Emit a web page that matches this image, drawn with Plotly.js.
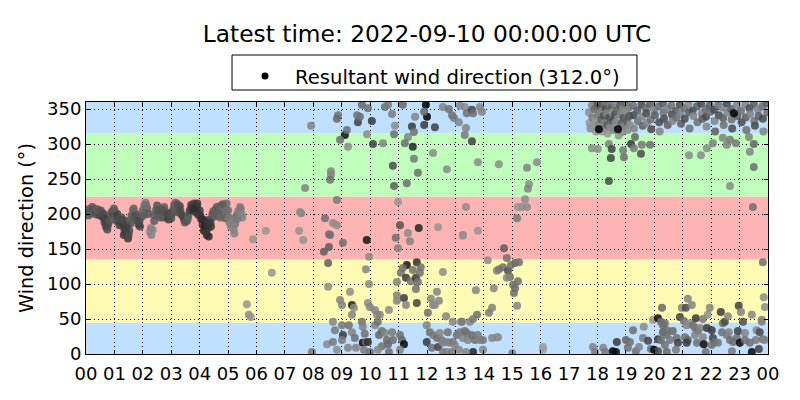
<!DOCTYPE html>
<html>
<head>
<meta charset="utf-8">
<script src="https://cdn.plot.ly/plotly-3.0.1.min.js"></script>
<style>html,body{margin:0;padding:0;background:#fff;}#chart{width:800px;height:400px;}</style>
</head>
<body>
<div id="chart"></div>
<script>
// ---------------- DATA ----------------
const titleText = 'Latest time: 2022-09-10 00:00:00 UTC';
const resultantDir = 312.0;
const yTitle = 'Wind direction (°)';
const hourTicks = [0,1,2,3,4,5,6,7,8,9,10,11,12,13,14,15,16,17,18,19,20,21,22,23,24];
const hourLabels = ['00','01','02','03','04','05','06','07','08','09','10','11','12','13','14','15','16','17','18','19','20','21','22','23','00'];
const dirTicks = [0,50,100,150,200,250,300,350];

// direction bands (degrees) and their colours
const bandFrom = [0, 45, 135, 225, 315];
const bandTo   = [45, 135, 225, 315, 360];
const bandColor = ['#bfe0ff', '#fffab4', '#ffb4b4', '#bfffbb', '#bfe0ff'];

// 00-05:30 : continuous cluster (hour, direction, shade 0=black..1=light grey)
const nightHour = [0.00,0.05,0.10,0.15,0.20,0.25,0.30,0.35,0.40,0.45,0.50,0.55,0.60,0.65,0.70,0.72,0.78,0.85,0.90,0.95,1.00,1.05,1.10,1.15,1.20,1.25,1.30,1.35,1.38,1.42,1.45,1.48,1.52,1.56,1.60,1.65,1.70,1.75,1.80,1.85,1.90,1.95,2.00,2.05,2.10,2.15,2.20,2.25,2.30,2.35,2.40,2.45,2.50,2.55,2.60,2.65,2.70,2.75,2.80,2.85,2.90,2.95,3.00,3.05,3.10,3.15,3.20,3.25,3.30,3.35,3.40,3.45,3.50,3.55,3.60,3.65,3.70,3.75,3.80,3.85,3.90,3.95,4.00,4.05,4.10,4.15,4.20,4.25,4.30,4.35,4.40,4.45,4.50,4.55,4.60,4.65,4.70,4.75,4.80,4.85,4.90,4.95,5.00,5.05,5.10,5.15,5.20,5.25,5.30,5.35,5.40,5.45,5.50];
const nightDir = [205,203,207,201,204,206,200,203,199,205,198,202,195,188,182,192,185,198,203,200,205,197,200,193,189,195,185,178,190,172,182,165,176,186,198,205,194,200,190,185,182,196,205,212,216,208,200,175,170,177,190,205,212,198,208,200,195,210,203,196,192,198,194,205,213,216,208,202,211,200,197,192,195,190,198,205,213,209,215,203,210,199,205,193,185,176,188,170,180,192,182,200,196,206,210,198,203,212,208,200,194,215,205,188,182,193,178,186,198,204,200,207,195];
const nightShade = [.5,.45,.55,.4,.5,.45,.5,.4,.45,.5,.4,.45,.35,.4,.35,.45,.4,.5,.45,.4,.5,.45,.35,.4,.35,.45,.3,.35,.4,.3,.35,.3,.4,.45,.5,.55,.45,.4,.45,.4,.35,.5,.55,.6,.65,.5,.45,.75,.7,.75,.5,.55,.45,.4,.5,.45,.4,.5,.45,.4,.35,.45,.4,.45,.5,.55,.45,.4,.35,.45,.4,.35,.4,.45,.5,.35,.3,.25,.35,.3,.25,.3,.3,.25,.3,.2,.3,.25,.3,.35,.3,.45,.5,.55,.5,.45,.55,.5,.6,.55,.5,.6,.6,.65,.7,.6,.7,.65,.6,.7,.65,.7,.7];

// extra readings inside the night cluster [hour, direction, shade]
const nightExtra = [
 [0.08,198,.5],[0.22,210,.45],[0.38,207,.5],[0.52,205,.45],[0.62,200,.4],[0.68,192,.35],[0.75,178,.4],[0.82,190,.45],[0.98,208,.5],
 [1.08,190,.4],[1.18,184,.35],[1.28,192,.4],[1.33,170,.3],[1.40,180,.35],[1.50,170,.4],[1.58,192,.5],[1.68,208,.55],[1.78,195,.45],[1.88,190,.4],
 [2.02,198,.5],[2.12,212,.6],[2.28,180,.7],[2.42,198,.5],[2.52,205,.45],[2.62,195,.5],[2.72,205,.45],[2.88,200,.4],
 [3.02,200,.45],[3.12,206,.5],[3.22,214,.45],[3.32,205,.4],[3.48,188,.45],[3.58,193,.5],[3.72,206,.3],[3.82,208,.25],[3.92,215,.3],
 [4.02,198,.3],[4.12,192,.25],[4.18,182,.2],[4.22,175,.3],[4.28,186,.3],[4.32,168,.25],[4.38,188,.3],[4.48,204,.5],[4.62,202,.5],[4.72,195,.55],[4.82,214,.5],[4.92,205,.6],
 [5.02,195,.65],[5.12,188,.7],[5.22,172,.7],[5.32,193,.65],[5.42,210,.65],[5.48,200,.7]
];

// 05:30-17:00 scattered readings [hour, direction, shade]
const dayPoints = [
 [5.88,164,.8],[6.33,176,.8],[6.54,116,.8],[5.66,71,.8],[5.73,56,.75],[5.80,53,.8],
 [7.92,326,.7],[7.71,237,.7],[7.57,201,.7],[7.53,203,.75],[7.50,176,.8],[7.64,163,.8],[7.95,3,.65],
 [8.62,261,.7],[8.62,256,.7],[8.59,249,.6],[8.41,194,.6],[8.69,187,.75],[8.83,184,.75],[8.55,171,.6],[8.59,170,.6],[8.83,220,.65],
 [9.04,159,.6],[8.37,146,.5],[8.55,153,.5],[8.52,130,.5],[8.52,96,.75],[8.94,77,.7],[9.01,70,.7],[9.36,70,.15],[9.43,66,.75],[9.29,89,.75],[9.36,56,.7],
 [9.88,163,.1],[9.96,139,.75],[9.85,121,.7],[9.96,100,.75],[9.92,73,.75],[9.99,67,.7],[10.17,63,.7],[10.34,56,.7],[10.66,63,.75],
 [10.90,166,.6],[10.98,151,.7],[10.98,217,.8],[11.05,184,.45],[11.33,173,.75],[11.40,161,.7],[11.71,180,.2],[12.39,181,.8],[13.26,170,.7],[13.26,169,.8],[13.37,210,.75],[13.79,176,.8],
 [10.94,84,.7],[10.94,76,.7],[11.19,80,.3],[11.26,70,.7],[10.94,103,.7],[11.08,116,.6],[11.26,109,.3],[11.29,127,.1],[11.15,123,.6],[11.43,104,.6],[11.50,120,.6],[11.64,131,.25],[11.78,124,.6],[11.61,109,.3],[11.75,116,.6],[11.68,103,.6],[11.61,93,.6],[11.64,73,.35],
 [12.56,117,.75],[12.35,89,.7],[12.42,76,.7],[12.14,79,.7],[12.21,70,.7],[12.28,70,.75],[12.03,59,.6],[12.67,54,.7],[12.91,46,.7],[13.20,46,.7],[13.72,91,.7],[13.76,56,.6],[13.51,46,.7],[13.62,50,.65],
 [14.14,134,.75],[14.35,94,.7],[14.29,66,.7],[14.18,59,.65],[14.46,119,.7],[14.53,121,.65],[14.67,124,.6],[14.71,151,.5],[14.81,137,.6],[14.85,119,.4],[14.92,110,.6],[14.81,109,.7],[15.03,99,.6],[15.10,94,.6],[15.20,104,.6],[15.06,87,.6],[15.17,69,.7],[15.10,130,.5],[15.24,131,.6],[14.95,127,.6],[14.46,24,.75],[14.50,24,.75],[14.29,23,.7],
 [9.71,356,.55],[9.92,351,.6],[10.52,353,.6],[10.63,356,.65],[10.77,343,.65],[11.15,356,.55],[11.96,356,0],[12.00,339,0],[11.90,346,.55],[11.90,327,.3],[11.58,339,.7],[11.47,325,.3],[11.54,317,.6],[11.33,310,.7],[11.50,296,.2],[11.22,301,.6],
 [10.87,326,.75],[10.84,314,.6],[10.45,301,.7],[10.10,300,.35],[10.06,333,.3],[9.89,314,.75],[9.57,331,.35],[9.64,339,.6],[9.54,341,.6],[9.22,296,.75],[9.11,313,.1],[9.18,320,.6],[8.94,306,.6],[8.87,341,.6],[8.83,336,.55],
 [10.80,269,.4],[10.84,240,.5],[11.29,244,.6],[11.54,279,.65],[11.68,259,.6],[12.21,287,.75],[12.70,264,.75],[12.28,324,.35],
 [12.56,353,.7],[12.77,350,.6],[12.88,341,.6],[12.95,337,.65],[13.12,331,.7],[13.16,355,.7],[13.33,353,.75],[13.40,344,.6],[13.58,349,.35],[13.62,344,.6],[13.86,353,.7],[13.93,346,.7],[13.37,323,.7],[13.33,313,.65],[13.58,304,.35],[13.79,274,.75],
 [14.53,271,.75],[15.52,266,.7],[15.87,274,.75],[15.59,243,.75],[15.55,236,.7],[15.45,221,.75],[15.52,210,.75],[15.34,210,.75],[15.17,194,.65],[15.20,210,.8],
 [8.69,46,.7],[8.76,34,.65],[9.01,41,.65],[9.04,27,.3],[9.01,20,.65],[8.48,14,.75],[8.69,17,.65],[8.83,6,.75],[9.25,41,.6],[9.36,31,.7],[9.46,23,.6],[9.22,9,.7],[9.50,9,.7],
 [9.71,46,.6],[9.74,39,.7],[9.81,29,.6],[9.74,16,.05],[9.85,17,.6],[9.92,17,.25],[9.78,6,.65],[9.99,3,.6],[10.17,41,.7],[10.27,46,.6],[10.41,33,.6],[10.31,27,.55],[10.52,30,.7],[10.59,20,.6],[10.41,11,.6],[10.63,14,.55],[10.77,31,.65],[10.80,20,.6],[10.27,6,.7],[10.66,3,.6],[10.24,56,.7],
 [11.05,27,.6],[11.12,20,.55],[11.19,14,.05],[11.05,6,.7],
 [11.99,17,.3],[11.99,41,.7],[12.10,31,.6],[12.21,27,.65],[12.17,9,.6],[12.35,23,.6],[12.39,10,.35],[12.52,20,.65],[12.56,16,.7],[12.70,17,.7],[12.80,16,.7],[12.91,17,.65],[12.98,13,.7],[13.05,27,.6],[13.16,31,.65],[13.26,23,.7],[13.40,30,.65],[13.44,20,.7],[13.58,27,.6],[13.69,20,.6],[13.79,27,.65],[13.86,20,.7],[13.97,20,.65],[13.62,3,.2],[13.97,6,.7],[12.70,3,.7],[12.88,3,.65],[13.12,6,.7],[13.37,3,.7],[12.56,3,.65],[13.23,46,.65],[13.33,33,.6],[12.45,30,.7],[12.73,31,.6],
 [15.00,1,.7],[16.08,10,.85],[16.08,6,.85]
];

// 17:30-24:00 readings [hour, direction, shade]
const eveningPoints = [
 [17.84,10,.7],[17.91,3,.65],[18.20,9,.7],[18.27,3,.65],[18.54,4,0],[18.65,3,.05],[18.68,17,.3],[19.00,20,.55],[19.14,17,.6],[19.07,9,.6],[19.35,4,.6],[19.46,10,.7],[19.25,34,.6],[19.60,23,.65],[19.63,39,.75],[19.78,19,.35],[19.88,7,.6],[19.99,6,.05],[19.95,49,.8],
 [20.13,51,.05],[20.13,21,.3],[20.23,46,.6],[20.27,66,.55],[20.30,41,.6],[20.30,31,.5],[20.37,44,.6],[20.44,27,.6],[20.37,13,.6],[20.44,3,.55],[20.13,4,.4],[20.55,20,.65],[20.65,33,.55],[20.79,23,.6],[20.83,16,.35],[20.76,6,.65],[20.44,34,.6],[20.23,20,.6],
 [20.90,53,.35],[20.97,66,.7],[21.04,47,.6],[21.11,66,.4],[21.18,79,.7],[21.32,70,.7],[21.14,41,.7],[21.25,44,.75],[21.36,41,.6],[21.46,51,.3],[21.43,37,.65],[21.53,33,.6],[21.60,37,.7],[21.08,24,.6],[21.18,20,.55],[21.14,16,.3],[21.50,16,.6],[21.43,27,.7],
 [21.71,24,.7],[21.74,14,.05],[21.81,3,.6],[21.71,50,.65],[21.88,56,.75],[21.95,66,.7],[21.85,37,.3],[22.02,34,.3],[22.06,23,.35],[22.13,17,.6],[22.02,13,.6],[22.24,16,.65],[22.34,60,.3],[22.41,44,.6],[22.38,31,.6],[22.48,46,.4],[22.59,54,.7],[22.55,27,.65],[22.66,20,.6],[22.62,31,.7],[22.73,4,.65],[22.77,17,.6],
 [22.90,23,.6],[22.94,33,.35],[22.97,69,.35],[23.05,60,.7],[23.12,46,.4],[23.19,30,.7],[23.01,16,.05],[23.19,20,.6],[23.43,56,.7],[23.36,16,.6],[23.43,3,.05],[23.57,20,.65],[23.60,34,.7],[23.71,31,.4],[23.78,46,.7],[23.82,21,.6],[23.89,20,.7],[23.68,7,.35],[23.82,131,.6],[23.85,81,.75],[23.89,67,.75],[23.78,49,.7],
 [17.80,294,.75],[18.01,293,.75],[18.40,300,.7],[18.50,293,.35],[18.47,280,.35],[18.90,291,.65],[18.93,281,.6],[19.18,300,.3],[19.32,310,.55],[19.56,299,.65],[19.53,286,.4],[19.85,299,.6],[19.28,294,.65],[18.40,247,.4],
 [21.22,284,.75],[21.64,284,.75],[21.85,294,.75],[22.06,301,.7],[22.41,309,.7],[22.55,299,.7],[22.66,306,.65],[22.87,301,.65],[23.33,310,.7],[23.50,300,.55],[23.36,289,.7],[23.50,267,.6],[22.66,240,.75],[23.47,210,.6],
 [17.70,345,.75],[17.72,330,.8],[17.75,322,.75],[17.80,355,.7],[17.82,338,.65],[17.85,326,.8],[17.90,350,.55],[17.93,333,.8],[17.95,318,.8],
 [18.00,358,.45],[18.02,342,.65],[18.04,328,.7],[18.10,353,.4],[18.12,346,.7],[18.14,335,.5],[18.16,318,.8],[18.20,357,.55],[18.22,340,.45],[18.24,330,.7],[18.26,322,.75],
 [18.30,350,.4],[18.32,344,.7],[18.34,327,.5],[18.36,315,.8],[18.40,356,.6],[18.42,338,.4],[18.44,324,.75],[18.50,352,.5],[18.52,345,.75],[18.54,333,.45],[18.56,320,.7],
 [18.60,358,.7],[18.62,342,.4],[18.64,330,.75],[18.70,348,.55],[18.72,336,.75],[18.74,312,.8],[18.80,355,.45],[18.82,343,.7],[18.84,329,.5],[18.86,317,.75],
 [18.90,350,.75],[18.92,338,.45],[18.94,325,.7],[19.00,357,.55],[19.02,346,.75],[19.04,332,.5],[19.06,320,.75],[19.10,352,.7],[19.12,340,.45],[19.14,327,.75],
 [19.25,355,.6],[19.27,341,.4],[19.29,322,.7],[19.40,348,.5],[19.42,333,.6],[19.55,356,.4],[19.57,339,.7],[19.59,326,.5],[19.70,351,.6],[19.72,344,.4],[19.74,330,.7],
 [19.85,357,.5],[19.87,335,.6],[19.89,321,.4],[20.00,349,.7],[20.02,341,.5],[20.15,354,.6],[20.17,331,.4],[20.19,318,.7],[20.30,358,.5],[20.32,345,.6],[20.34,336,.4],
 [20.45,350,.7],[20.47,327,.5],[20.60,355,.6],[20.62,342,.4],[20.64,333,.7],[20.75,347,.5],[20.77,338,.6],[20.90,356,.4],[20.92,343,.7],[20.94,329,.5],
 [21.05,351,.6],[21.07,336,.4],[21.20,357,.7],[21.22,345,.5],[21.24,322,.6],[21.35,348,.4],[21.37,340,.7],[21.50,354,.5],[21.52,331,.6],
 [21.65,358,.4],[21.67,344,.7],[21.69,336,.5],[21.80,350,.6],[21.82,339,.4],[21.84,325,.7],[21.95,355,.5],[21.97,346,.6],[22.10,349,.4],[22.12,333,.7],[22.14,318,.5],
 [22.25,356,.6],[22.27,341,.4],[22.40,352,.7],[22.42,337,.5],[22.44,327,.6],[22.55,358,.4],[22.57,345,.7],[22.70,350,.5],[22.72,335,.6],[22.74,322,.4],
 [22.90,355,.7],[22.92,340,.5],[23.05,347,.6],[23.07,331,.4],[23.20,356,.7],[23.22,338,.5],[23.24,320,.6],[23.35,351,.4],[23.37,343,.7],
 [23.50,357,.5],[23.52,333,.6],[23.54,326,.4],[23.65,349,.7],[23.67,340,.5],[23.80,354,.6],[23.82,336,.4],[23.84,318,.7],[23.95,358,.5],[23.97,345,.6],
 [18.05,321,0],[18.72,321,0],[22.80,344,0]
];

// ---------------- BUILD ----------------
const col = (arr, k) => arr.map(p => p[k]);
const allHour = nightHour.concat(col(nightExtra,0), col(dayPoints,0), col(eveningPoints,0));
const allDir = nightDir.concat(col(nightExtra,1), col(dayPoints,1), col(eveningPoints,1));
const allShade = nightShade.concat(col(nightExtra,2), col(dayPoints,2), col(eveningPoints,2));

const font = 'DejaVu Sans, sans-serif';

const traces = [
  {
    type: 'scatter', mode: 'markers',
    x: allHour, y: allDir,
    showlegend: false, hoverinfo: 'skip',
    marker: {
      size: 8, opacity: 0.85,
      color: allShade, cmin: 0, cmax: 1,
      colorscale: [[0, 'rgb(0,0,0)'], [1, 'rgb(185,185,185)']],
      line: {width: 0}
    }
  },
  {
    type: 'scatter', mode: 'markers',
    x: [null], y: [null],
    name: 'Resultant wind direction (' + resultantDir.toFixed(1) + '°)',
    marker: {size: 7, color: 'black'}
  }
];

const shapes = bandFrom.map((f, i) => ({
  type: 'rect', xref: 'paper', yref: 'y', x0: 0, x1: 1, y0: f, y1: bandTo[i],
  fillcolor: bandColor[i], line: {width: 0}, layer: 'below'
}));
// legend frame
shapes.push({type: 'rect', xref: 'paper', yref: 'paper', x0: 0.2141, x1: 0.8079, y0: 1.0476, y1: 1.1865,
             fillcolor: 'white', line: {color: 'black', width: 1}, layer: 'above'});

const axisCommon = {
  showline: true, linecolor: 'black', linewidth: 1, mirror: 'allticks',
  ticks: 'inside', ticklen: 4, tickcolor: 'black', tickwidth: 1,
  showgrid: true, gridcolor: 'black', griddash: '1px,3px', gridwidth: 1,
  zeroline: false, tickfont: {family: font, size: 18, color: 'black'}
};

const layout = {
  width: 800, height: 400,
  margin: {l: 86, r: 32, t: 102, b: 46},
  paper_bgcolor: 'white', plot_bgcolor: 'white',
  font: {family: font, color: 'black'},
  title: {text: titleText, font: {family: font, size: 23.3, color: 'black'},
          x: 0.5, xref: 'paper', xanchor: 'center', y: 0.915, yref: 'container', yanchor: 'middle'},
  showlegend: true,
  legend: {orientation: 'h', x: 0.2185, xanchor: 'left', y: 1.18, yanchor: 'top',
           borderwidth: 0, bgcolor: 'rgba(0,0,0,0)',
           font: {family: font, size: 19.6, color: 'black'}, itemwidth: 50},
  xaxis: Object.assign({}, axisCommon, {range: [0, 24], tickvals: hourTicks, ticktext: hourLabels, ticklabelstandoff: 3}),
  yaxis: Object.assign({}, axisCommon, {range: [0, 360], tickvals: dirTicks,
           title: {text: yTitle, font: {family: font, size: 19.3, color: 'black'}, standoff: 8}}),
  shapes: shapes
};

Plotly.newPlot('chart', traces, layout, {staticPlot: true, displayModeBar: false});
</script>
</body>
</html>
